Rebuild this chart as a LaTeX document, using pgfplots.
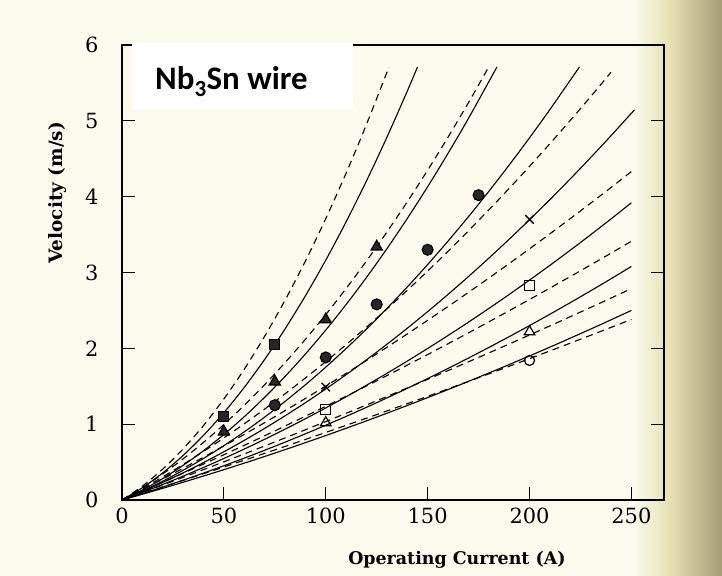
\documentclass[border=0pt]{standalone}
\usepackage{fontspec}
\setmainfont{DejaVu Serif}
\newfontfamily\labelfont{Carlito}
\usepackage{pgfplots}
\pgfplotsset{compat=1.18}
\definecolor{paper}{RGB}{251,250,237}
\definecolor{edgeA}{RGB}{228,222,175}
\definecolor{edgeB}{RGB}{165,155,118}
\begin{document}
\begin{tikzpicture}
\fill[paper] (-122bp,-76bp) rectangle (600bp,500bp);
\shade[left color=paper, right color=edgeA] (512bp,-76bp) rectangle (550bp,500bp);
\shade[left color=edgeA, right color=edgeB] (550bp,-76bp) rectangle (600bp,500bp);
\begin{axis}[
  at={(0,0)}, anchor=south west,
  width=542bp, height=455bp, scale only axis,
  xmin=0, xmax=266, ymin=0, ymax=6,
  xtick={0,50,100,150,200,250}, ytick={0,1,2,3,4,5,6},
  xtick pos=bottom, ytick pos=both,
  tick align=inside, major tick length=13bp,
  tick style={black, line width=1bp},
  axis line style={line width=1.3bp},
  /pgf/number format/assume math mode=true,
  tick label style={font=\fontsize{21}{23}\selectfont},
  xticklabel style={yshift=-4bp},
  yticklabel style={xshift=-20bp},
  xlabel={Operating Current (A)},
  ylabel={Velocity (m/s)},
  xlabel style={font=\bfseries\fontsize{17.5}{19}\selectfont, at={(axis description cs:0.618,-0.132)}, anchor=center},
  ylabel style={font=\bfseries\fontsize{18.5}{20}\selectfont, at={(axis description cs:-0.119,0.675)}, anchor=center, rotate=0},
  every axis plot/.append style={line width=1.1bp, black},
  sol/.style={solid, smooth},
  dsh/.style={dash pattern=on 7bp off 5bp, smooth},
]
% solid curves
\addplot[sol] coordinates {(0,0)(10,0.1615)(20,0.3574)(30,0.5877)(40,0.8524)(50,1.1515)(60,1.485)(70,1.8529)(80,2.2552)(90,2.6919)(100,3.163)(110,3.6685)(120,4.2084)(130,4.7827)(140,5.3914)(145,5.7087)};
\addplot[sol] coordinates {(0,0)(10,0.1318)(20,0.284)(30,0.4568)(40,0.6502)(50,0.864)(60,1.0984)(70,1.3532)(80,1.6286)(90,1.9246)(100,2.241)(110,2.578)(120,2.9354)(130,3.3134)(140,3.712)(150,4.131)(160,4.5706)(170,5.0306)(184,5.7093)};
\addplot[sol] coordinates {(0,0)(10,0.118)(20,0.2486)(30,0.392)(40,0.5482)(50,0.717)(60,0.8986)(70,1.0928)(80,1.2998)(90,1.5196)(100,1.752)(110,1.9972)(120,2.255)(130,2.5256)(140,2.809)(150,3.105)(160,3.4138)(170,3.7352)(180,4.0694)(190,4.4164)(200,4.776)(210,5.1484)(224.5,5.7109)};
\addplot[sol] coordinates {(0,0)(10,0.1118)(20,0.2314)(30,0.3586)(40,0.4934)(50,0.636)(60,0.7862)(70,0.9442)(80,1.1098)(90,1.283)(100,1.464)(110,1.6526)(120,1.849)(130,2.053)(140,2.2646)(150,2.484)(160,2.711)(170,2.9458)(180,3.1882)(190,3.4382)(200,3.696)(210,3.9614)(220,4.2346)(230,4.5154)(240,4.8038)(251.5,5.1451)};
\addplot[sol] coordinates {(0,0)(10,0.1002)(20,0.205)(30,0.3146)(40,0.429)(50,0.548)(60,0.6718)(70,0.8002)(80,0.9334)(90,1.0714)(100,1.214)(110,1.3614)(120,1.5134)(130,1.6702)(140,1.8318)(150,1.998)(160,2.169)(170,2.3446)(180,2.525)(190,2.7102)(200,2.9)(210,3.0946)(220,3.2938)(230,3.4978)(240,3.7066)(250,3.92)};
\addplot[sol] coordinates {(0,0)(10,0.0838)(20,0.171)(30,0.2614)(40,0.355)(50,0.452)(60,0.5522)(70,0.6558)(80,0.7626)(90,0.8726)(100,0.986)(110,1.1026)(120,1.2226)(130,1.3458)(140,1.4722)(150,1.602)(160,1.735)(170,1.8714)(180,2.011)(190,2.1538)(200,2.3)(210,2.4494)(220,2.6022)(230,2.7582)(240,2.9174)(250,3.08)};
\addplot[sol] coordinates {(0,0)(10,0.076)(20,0.154)(30,0.234)(40,0.316)(50,0.4)(60,0.486)(70,0.574)(80,0.664)(90,0.756)(100,0.85)(110,0.946)(120,1.044)(130,1.144)(140,1.246)(150,1.35)(160,1.456)(170,1.564)(180,1.674)(190,1.786)(200,1.9)(210,2.016)(220,2.134)(230,2.254)(240,2.376)(250,2.5)};
% dashed curves
\addplot[dsh] coordinates {(0,0)(10,0.1829)(20,0.4076)(30,0.6741)(40,0.9824)(50,1.3325)(60,1.7244)(70,2.1581)(80,2.6336)(90,3.1509)(100,3.71)(110,4.3109)(120,4.9536)(131,5.7088)};
\addplot[dsh] coordinates {(0,0)(10,0.1627)(20,0.3436)(30,0.5426)(40,0.7598)(50,0.9953)(60,1.2488)(70,1.5206)(80,1.8106)(90,2.1187)(100,2.445)(110,2.7895)(120,3.1522)(130,3.533)(140,3.932)(150,4.3493)(160,4.7846)(170,5.2382)(180,5.71)};
\addplot[dsh] coordinates {(0,0)(10,0.1488)(20,0.305)(30,0.4688)(40,0.64)(50,0.8188)(60,1.005)(70,1.1988)(80,1.4)(90,1.6088)(100,1.825)(110,2.0488)(120,2.28)(130,2.5188)(140,2.765)(150,3.0188)(160,3.28)(170,3.5488)(180,3.825)(190,4.1088)(200,4.4)(210,4.6988)(220,5.005)(230,5.3188)(240,5.64)};
\addplot[dsh] coordinates {(0,0)(10,0.1365)(20,0.2761)(30,0.4188)(40,0.5645)(50,0.7133)(60,0.8651)(70,1.02)(80,1.1779)(90,1.3389)(100,1.503)(110,1.6701)(120,1.8403)(130,2.0136)(140,2.1899)(150,2.3693)(160,2.5517)(170,2.7372)(180,2.9257)(190,3.1173)(200,3.312)(210,3.5097)(220,3.7105)(230,3.9144)(240,4.1213)(250.5,4.3419)};
\addplot[dsh] coordinates {(0,0)(10,0.1159)(20,0.2334)(30,0.3527)(40,0.4738)(50,0.5965)(60,0.721)(70,0.8471)(80,0.975)(90,1.1047)(100,1.236)(110,1.3691)(120,1.5038)(130,1.6403)(140,1.7786)(150,1.9185)(160,2.0602)(170,2.2035)(180,2.3486)(190,2.4955)(200,2.644)(210,2.7943)(220,2.9462)(230,3.0999)(240,3.2554)(250,3.4125)};
\addplot[dsh] coordinates {(0,0)(10,0.0985)(20,0.1982)(30,0.2989)(40,0.4006)(50,0.5035)(60,0.6074)(70,0.7125)(80,0.8186)(90,0.9257)(100,1.034)(110,1.1433)(120,1.2538)(130,1.3653)(140,1.4778)(150,1.5915)(160,1.7062)(170,1.8221)(180,1.939)(190,2.0569)(200,2.176)(210,2.2961)(220,2.4174)(230,2.5397)(240,2.663)(250,2.7875)};
\addplot[dsh] coordinates {(0,0)(10,0.0854)(20,0.1716)(30,0.2587)(40,0.3466)(50,0.4353)(60,0.5248)(70,0.6151)(80,0.7062)(90,0.7982)(100,0.891)(110,0.9846)(120,1.079)(130,1.1743)(140,1.2704)(150,1.3673)(160,1.465)(170,1.5635)(180,1.6628)(190,1.763)(200,1.864)(210,1.9658)(220,2.0684)(230,2.1719)(240,2.2762)(250,2.3813)};
% data markers
\addplot[only marks, mark=square*, mark size=5bp, mark options={fill=black!85}] coordinates {(50,1.10)(75,2.05)};
\addplot[only marks, mark=triangle*, mark size=6.5bp, mark options={fill=black!85}] coordinates {(50,0.90)(75,1.56)(100,2.38)(125,3.34)};
\addplot[only marks, mark=*, mark size=5.5bp, mark options={fill=black!85}] coordinates {(75,1.25)(100,1.88)(125,2.58)(150,3.30)(175,4.02)};
\addplot[only marks, mark=x, mark size=6bp, line width=1.3bp] coordinates {(100,1.49)(200,3.70)};
\addplot[only marks, mark=square, mark size=5bp, line width=1.2bp, mark options={fill=white}] coordinates {(100,1.19)(200,2.83)};
\addplot[only marks, mark=triangle, mark size=6bp, line width=1.2bp, mark options={fill=white}] coordinates {(100,1.02)(200,2.22)};
\addplot[only marks, mark=o, mark size=5bp, line width=1.2bp, mark options={fill=white}] coordinates {(200,1.84)};
\coordinate (bsw) at (axis cs:4.9,5.15);
\coordinate (bne) at (axis cs:113.2,6.03);
\coordinate (txt) at (axis cs:16.2,5.41);
\end{axis}
\fill[white] (bsw) rectangle (bne);
\node[anchor=base west, inner sep=0pt, font=\labelfont\bfseries\fontsize{33}{36}\selectfont] at (txt) {Nb\textsubscript{3}Sn wire};
\end{tikzpicture}
\end{document}
